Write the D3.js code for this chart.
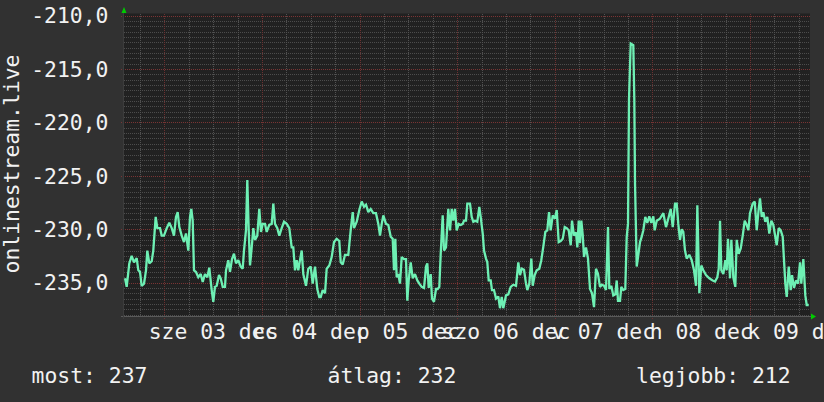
<!DOCTYPE html>
<html><head><meta charset="utf-8">
<script src="https://cdn.jsdelivr.net/npm/d3@7"></script>
<style>html,body{margin:0;padding:0;background:#313131;} svg{display:block}</style>
</head><body><svg id="c" width="824" height="402"></svg>
<script>
const seriesName = "onlinestream.live";
const startTime = Date.UTC(2025, 11, 2, 14, 5, 24);
const spanHours = 168.65;
const hours = [0.25,0.66,1.30,1.89,2.46,3.12,3.52,3.93,4.35,4.92,5.41,5.73,6.22,6.81,7.20,7.79,8.19,8.85,9.27,9.83,10.50,11.14,11.73,12.29,12.78,13.20,13.60,14.19,14.75,15.24,15.81,16.23,16.55,16.89,17.21,17.70,18.27,18.86,19.35,19.91,20.48,20.97,21.56,21.95,22.37,22.79,23.36,23.77,24.27,24.83,25.08,25.64,26.06,26.55,27.04,27.54,28.10,28.69,29.18,29.50,29.99,30.31,30.66,30.98,31.40,31.79,32.21,32.77,33.26,33.68,34.10,34.66,35.08,35.72,36.31,36.71,37.12,37.69,38.18,38.77,39.34,40.00,40.64,41.23,41.62,42.04,42.46,42.85,43.27,43.69,44.08,44.74,45.31,45.90,46.39,46.96,47.52,48.01,48.36,48.85,49.42,49.83,50.47,51.06,51.63,52.29,52.93,53.28,53.77,54.33,55.14,55.73,56.23,56.55,57.21,57.85,58.44,59.00,59.50,60.06,60.65,61.29,61.95,62.52,62.94,63.36,63.75,64.41,64.98,65.57,66.06,66.38,66.70,67.04,67.44,67.85,68.27,68.84,69.33,69.65,69.99,70.48,70.98,71.54,72.11,72.60,73.19,73.76,74.25,74.57,74.91,75.40,75.72,76.21,76.71,77.12,77.52,77.86,78.35,78.67,79.16,79.73,80.15,80.57,80.96,81.38,81.79,82.28,82.78,83.27,83.59,84.08,84.40,85.06,85.48,85.88,86.37,86.86,87.35,87.69,88.19,88.51,89.00,89.32,89.66,90.15,90.47,90.96,91.46,92.02,92.44,92.86,93.25,93.91,94.48,95.07,95.71,96.37,96.94,97.36,97.78,98.34,98.83,99.15,99.64,100.14,100.48,100.97,101.46,102.10,102.59,103.08,103.58,104.07,104.49,104.90,105.40,105.96,106.38,106.87,107.36,107.86,108.35,108.84,109.33,109.82,110.14,110.63,111.12,111.45,111.79,112.11,112.43,112.77,113.09,113.58,114.07,114.57,115.06,115.55,116.04,116.53,117.02,117.52,118.01,118.50,118.99,119.31,119.80,120.29,120.79,121.13,121.45,121.94,122.26,122.75,123.24,123.59,123.91,124.15,124.57,125.21,125.46,125.63,126.05,126.37,126.86,127.28,127.67,128.16,128.65,129.14,129.64,130.13,130.47,130.96,131.45,131.78,132.59,133.25,133.82,134.41,134.90,135.46,135.88,136.27,136.69,137.11,137.50,137.92,138.34,138.98,139.57,140.13,140.63,140.95,141.44,141.93,142.42,143.08,143.89,144.73,145.30,145.86,146.21,146.53,146.85,147.34,147.83,148.17,148.49,148.99,149.31,149.80,150.29,150.63,151.12,151.62,152.11,152.60,153.09,153.49,153.90,154.56,155.06,155.55,156.04,156.36,156.78,157.17,157.66,158.15,158.65,159.14,159.63,160.12,160.47,160.96,161.45,161.94,162.26,162.58,162.93,163.42,163.91,164.23,164.72,165.21,165.71,166.20,166.51,167.01,167.50,167.84,168.33];
const values = [-234.6,-235.4,-233.2,-232.5,-233.1,-232.7,-233.85,-234,-235.3,-235.1,-233.85,-232,-233.2,-233,-232,-228.85,-229.9,-229.9,-230.6,-230.6,-229.9,-229.4,-229.9,-230.6,-228.85,-228.4,-229.8,-230.6,-231.2,-230.4,-232,-228.85,-228.1,-229.2,-233.85,-234,-234.5,-234.2,-234.95,-234.2,-234.5,-233.6,-235.7,-236.8,-235.4,-235.3,-234.3,-234.6,-235.4,-235.4,-233.85,-232.9,-234,-232.8,-232.3,-233.2,-232.9,-233.5,-233.7,-232,-230.1,-225.4,-230.1,-233.4,-231.7,-229.9,-231,-230.6,-228.1,-230.25,-229.5,-229.5,-230.25,-229.6,-229.5,-227.6,-229.5,-229.9,-230.6,-229.9,-229.3,-229.5,-229.9,-231.7,-231.7,-233.85,-232.9,-233.85,-232.9,-232,-234.2,-235.3,-233.7,-233.5,-235.1,-233.5,-235.6,-236.35,-236.35,-235.7,-236,-233.7,-233.4,-232.6,-231.2,-230.9,-231.1,-233.1,-233.3,-232.4,-232.4,-230.1,-228.4,-229.9,-229.3,-228.2,-227.4,-227.9,-227.7,-228.4,-228.1,-228.5,-228.5,-229.5,-230.6,-229.5,-228.7,-229.5,-229.6,-230.7,-230.9,-233.85,-230.9,-234.5,-234.2,-235.1,-232.6,-232.8,-232.8,-236.7,-234.8,-233.1,-234.6,-234.2,-234.8,-235.1,-235.4,-235.5,-233.5,-233.2,-235.5,-234.2,-236.5,-236.8,-235.6,-235.6,-235.4,-232.3,-228.7,-232,-231.7,-228.1,-230.1,-228.1,-229.2,-228.1,-230.1,-229.5,-229.6,-229.5,-229.2,-229.2,-227.6,-227.6,-228.85,-229.3,-229.2,-229.3,-227.9,-228.85,-230.4,-232,-232.75,-233.1,-234.8,-234.8,-235.7,-235.7,-236.5,-236.3,-237.4,-236.35,-237.4,-236.2,-236.1,-235.4,-235.2,-235.3,-233.1,-234.3,-233.7,-233.8,-235.1,-235.7,-235.1,-232.75,-235.3,-234.3,-233.85,-233.7,-232.9,-231.65,-230.25,-230.1,-228.4,-230.1,-228.7,-229.0,-228.2,-231.2,-231.1,-230.9,-229.8,-229.9,-230.1,-231.5,-229.2,-230.6,-230.3,-231.7,-229.2,-231.3,-229.2,-230.5,-232.6,-231.7,-232.75,-235.6,-236,-237.3,-233.7,-234.2,-235.4,-235.2,-235.3,-235.7,-229.8,-235.6,-235.3,-236.2,-236.1,-234.8,-236.7,-236.7,-235.4,-235.7,-235.6,-230.7,-229.5,-217.9,-212.6,-212.75,-217.9,-225.7,-233.5,-232.6,-231.2,-230.7,-230.1,-228.85,-229.4,-228.8,-229.4,-228.8,-230.1,-229.2,-229.1,-229.0,-228.5,-229.8,-229.0,-228.1,-229.8,-227.6,-227.6,-229.5,-231,-230,-230.25,-232,-232.75,-232.4,-232.9,-233.85,-235.3,-227.75,-236,-233.4,-233.85,-234.3,-234.6,-234.8,-234.9,-234.5,-233.7,-229.2,-233.85,-234.2,-232.9,-233.85,-230.9,-234.6,-231.0,-234.5,-235.4,-231.0,-232.3,-231.8,-230.6,-229.2,-229.6,-230.1,-228.5,-227.6,-227.4,-230.1,-228.1,-227.1,-228.85,-228.4,-229.3,-228.85,-230.4,-229.2,-229.6,-230.7,-231.5,-229.9,-230.1,-230.7,-232.9,-235.1,-236.35,-233.5,-235.7,-234.3,-235.5,-234.8,-235.1,-233.1,-235.1,-232.8,-236.2,-237.1,-237.1];
const yDomain = [-238.13, -209.79];
const yTickValues = [-235, -230, -225, -220, -215, -210];
const xTickDays = [3, 4, 5, 6, 7, 8, 9];
const xTickLabels = ["sze 03 dec", "cs 04 dec", "p 05 dec", "szo 06 dec", "v 07 dec", "h 08 dec", "k 09 dec"];
const legendNames = ["most", "átlag", "legjobb"];
const legendValues = [237, 232, 212];

const W = 824, H = 402;
const P = {l: 124, r: 810, t: 13.5, b: 316};
const FONT = "'DejaVu Sans Mono', monospace";
const FS = 21.4;
const svg = d3.select('#c');
svg.append('rect').attr('width', W).attr('height', H).attr('fill', '#313131');

const x = d3.scaleUtc()
  .domain([new Date(startTime), new Date(startTime + spanHours * 3600e3)])
  .range([P.l, P.r]);
const y = d3.scaleLinear().domain(yDomain).range([P.b, P.t]);

svg.append('rect').attr('x', P.l).attr('y', P.t).attr('width', P.r - P.l).attr('height', P.b - P.t).attr('fill', '#212121');

const grid = svg.append('g').attr('shape-rendering', 'crispEdges');
const minorYs = d3.range(0, 57).map(i => -238 + i * 0.5).filter(v => y(v) >= P.t && y(v) <= P.b);
grid.selectAll('.hmin').data(minorYs.filter(v => v % 5 !== 0)).join('line')
  .attr('x1', P.l).attr('x2', P.r)
  .attr('y1', d => Math.round(y(d)) + 0.5).attr('y2', d => Math.round(y(d)) + 0.5)
  .attr('stroke', '#4c4c4c').attr('stroke-dasharray', '1,1');
const times = d3.utcHour.every(6).range(x.domain()[0], x.domain()[1]);
grid.selectAll('.vmin').data(times.filter(t => t.getUTCHours() !== 0)).join('line')
  .attr('x1', d => Math.round(x(d)) + 0.5).attr('x2', d => Math.round(x(d)) + 0.5)
  .attr('y1', P.t).attr('y2', P.b + 2)
  .attr('stroke', '#525252').attr('stroke-dasharray', '1,1');
grid.selectAll('.hmaj').data(yTickValues).join('line')
  .attr('x1', P.l - 3).attr('x2', P.r)
  .attr('y1', d => Math.round(y(d)) + 0.5).attr('y2', d => Math.round(y(d)) + 0.5)
  .attr('stroke', '#7a3434').attr('stroke-dasharray', '1,1');
grid.selectAll('.vmaj').data(times.filter(t => t.getUTCHours() === 0)).join('line')
  .attr('x1', d => Math.round(x(d)) + 0.5).attr('x2', d => Math.round(x(d)) + 0.5)
  .attr('y1', P.t).attr('y2', P.b + 3)
  .attr('stroke', '#6c3131').attr('stroke-dasharray', '1,1');

// axes
grid.append('line').attr('x1', P.l - 3).attr('x2', P.r + 2).attr('y1', P.b + 0.5).attr('y2', P.b + 0.5).attr('stroke', '#5a5a5a');
grid.append('line').attr('x1', P.l - 0.5).attr('x2', P.l - 0.5).attr('y1', P.t - 2).attr('y2', P.b + 3).attr('stroke', '#3c3c3c');

// data line
const data = hours.map((h, i) => ({t: new Date(startTime + h * 3600e3), v: values[i]}));
svg.append('clipPath').attr('id', 'clip').append('rect').attr('x', P.l).attr('y', P.t).attr('width', P.r - P.l).attr('height', P.b - P.t);
svg.append('path').datum(data)
  .attr('clip-path', 'url(#clip)')
  .attr('fill', 'none').attr('stroke', '#6ef0b4').attr('stroke-width', 2.3)
  .attr('stroke-linejoin', 'miter').attr('stroke-miterlimit', 2)
  .attr('d', d3.line().x(d => x(d.t)).y(d => y(d.v)));

// arrows
svg.append('path').attr('fill', '#00cc00')
  .attr('d', `M${P.l - 2.5},${P.t - 0.5}L${P.l + 2.5},${P.t - 0.5}L${P.l},${P.t - 6.5}Z`);
svg.append('path').attr('fill', '#00cc00')
  .attr('d', `M${P.r + 1},${P.b - 2.5}L${P.r + 1},${P.b + 3.5}L${P.r + 6},${P.b + 0.5}Z`);

// y tick labels
const fmt = d3.formatLocale({decimal: ',', thousands: ' ', grouping: [3], currency: ['', ''], minus: '-'}).format('.1f');
svg.append('g').selectAll('text').data(yTickValues).join('text')
  .attr('x', 108.5).attr('y', d => y(d)).attr('dy', '0.36em')
  .attr('text-anchor', 'end').attr('font-family', FONT).attr('font-size', FS).attr('fill', '#f2f2f2')
  .text(d => fmt(d));

// x tick labels
svg.append('g').selectAll('text').data(xTickDays).join('text')
  .attr('x', (d) => x(new Date(Date.UTC(2025, 11, d, 12))))
  .attr('y', 339)
  .attr('text-anchor', 'middle').attr('font-family', FONT).attr('font-size', FS).attr('fill', '#f2f2f2')
  .text((d, i) => xTickLabels[i]);

// y title
svg.append('text').attr('transform', 'translate(18.5,164) rotate(-90)')
  .attr('text-anchor', 'middle').attr('font-family', FONT).attr('font-size', FS).attr('fill', '#f2f2f2')
  .text(seriesName);

// legend
const legendX = [31.5, 327.5, 636];
svg.append('g').selectAll('text').data(legendNames).join('text')
  .attr('x', (d, i) => legendX[i]).attr('y', 383)
  .attr('font-family', FONT).attr('font-size', FS).attr('fill', '#f2f2f2')
  .text((d, i) => `${d}: ${legendValues[i]}`);
</script></body></html>
